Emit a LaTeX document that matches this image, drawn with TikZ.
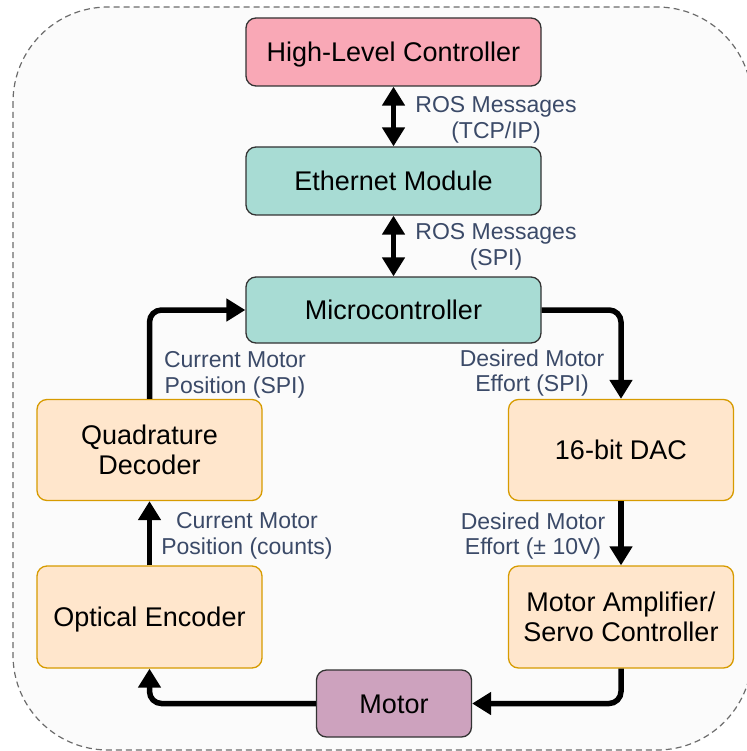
\documentclass[tikz,border=0pt]{standalone}
\usepackage{fontspec}
\setmainfont{Liberation Sans}
\usetikzlibrary{arrows.meta}
\definecolor{pinkfill}{HTML}{F9A8B6}
\definecolor{tealfill}{HTML}{A8DCD4}
\definecolor{orangefill}{HTML}{FFE6CC}
\definecolor{orangeline}{HTML}{D79B00}
\definecolor{purplefill}{HTML}{CDA2BE}
\definecolor{darkline}{HTML}{333333}
\definecolor{labelcol}{HTML}{3B4A68}
\definecolor{bgfill}{HTML}{FBFBFB}
\begin{document}
\begin{tikzpicture}[x=1pt,y=-1pt,
  box/.style={draw=darkline, line width=1.3pt, rounded corners=10pt, align=center,
    font=\fontsize{27}{30}\selectfont, inner sep=0pt},
  one/.style={text height=19.3pt, text depth=0pt},
  obox/.style={box, draw=orangeline, fill=orangefill},
  lbl/.style={align=center, text=labelcol, font=\fontsize{23}{25.5}\selectfont, inner sep=0pt},
  arr/.style={line width=5.5pt, rounded corners=12pt, -{Triangle[length=19pt,width=22pt]}},
  darr/.style={line width=5.5pt, {Triangle[length=19pt,width=22pt]}-{Triangle[length=19pt,width=22pt]}}
]
\useasboundingbox (0,0) rectangle (746,751);
\path[fill=bgfill, draw=gray!85!black, line width=1.2pt, dash pattern=on 6pt off 4pt, rounded corners=95pt]
  (13,7) rectangle (752,750);

\node[box, one, fill=pinkfill, minimum width=295pt, minimum height=68pt] (hlc) at (393.5,52) {High-Level Controller};
\node[box, one, fill=tealfill, minimum width=295pt, minimum height=68pt] (eth) at (393.5,181) {Ethernet Module};
\node[box, one, fill=tealfill, minimum width=295pt, minimum height=66pt] (mcu) at (393.5,310) {Microcontroller};
\node[obox, minimum width=225pt, minimum height=101pt] (quad) at (149.5,450) {Quadrature\\Decoder};
\node[obox, one, minimum width=225pt, minimum height=101pt] (dac) at (621,450) {16-bit DAC};
\node[obox, one, minimum width=225pt, minimum height=102pt] (enc) at (149.5,617) {Optical Encoder};
\node[obox, minimum width=225pt, minimum height=102pt] (amp) at (621,617) {Motor Amplifier/\\Servo Controller};
\node[box, one, fill=purplefill, minimum width=155pt, minimum height=67pt] (motor) at (394,703.5) {Motor};

\draw[darr] (hlc.south) -- (eth.north);
\draw[darr] (eth.south) -- (mcu.north);
\draw[arr] (mcu.east) -| (dac.north);
\draw[arr] (dac.south) -- (amp.north);
\draw[arr] (amp.south) |- (motor.east);
\draw[arr] (motor.west) -| (enc.south);
\draw[arr] (enc.north) -- (quad.south);
\draw[arr] (quad.north) |- (mcu.west);

\node[lbl] (l1) at (496,120) {ROS Messages\\(TCP/IP)};
\node[lbl] (l2) at (496,247) {ROS Messages\\(SPI)};
\node[lbl] (l3) at (235,375) {Current Motor\\Position (SPI)};
\node[lbl] (l4) at (532,373) {Desired Motor\\Effort (SPI)};
\node[lbl] (l5) at (247,536) {Current Motor\\Position (counts)};
\node[lbl] (l6) at (533,536) {Desired Motor\\Effort (\textpm{} 10V)};
\end{tikzpicture}
\end{document}
